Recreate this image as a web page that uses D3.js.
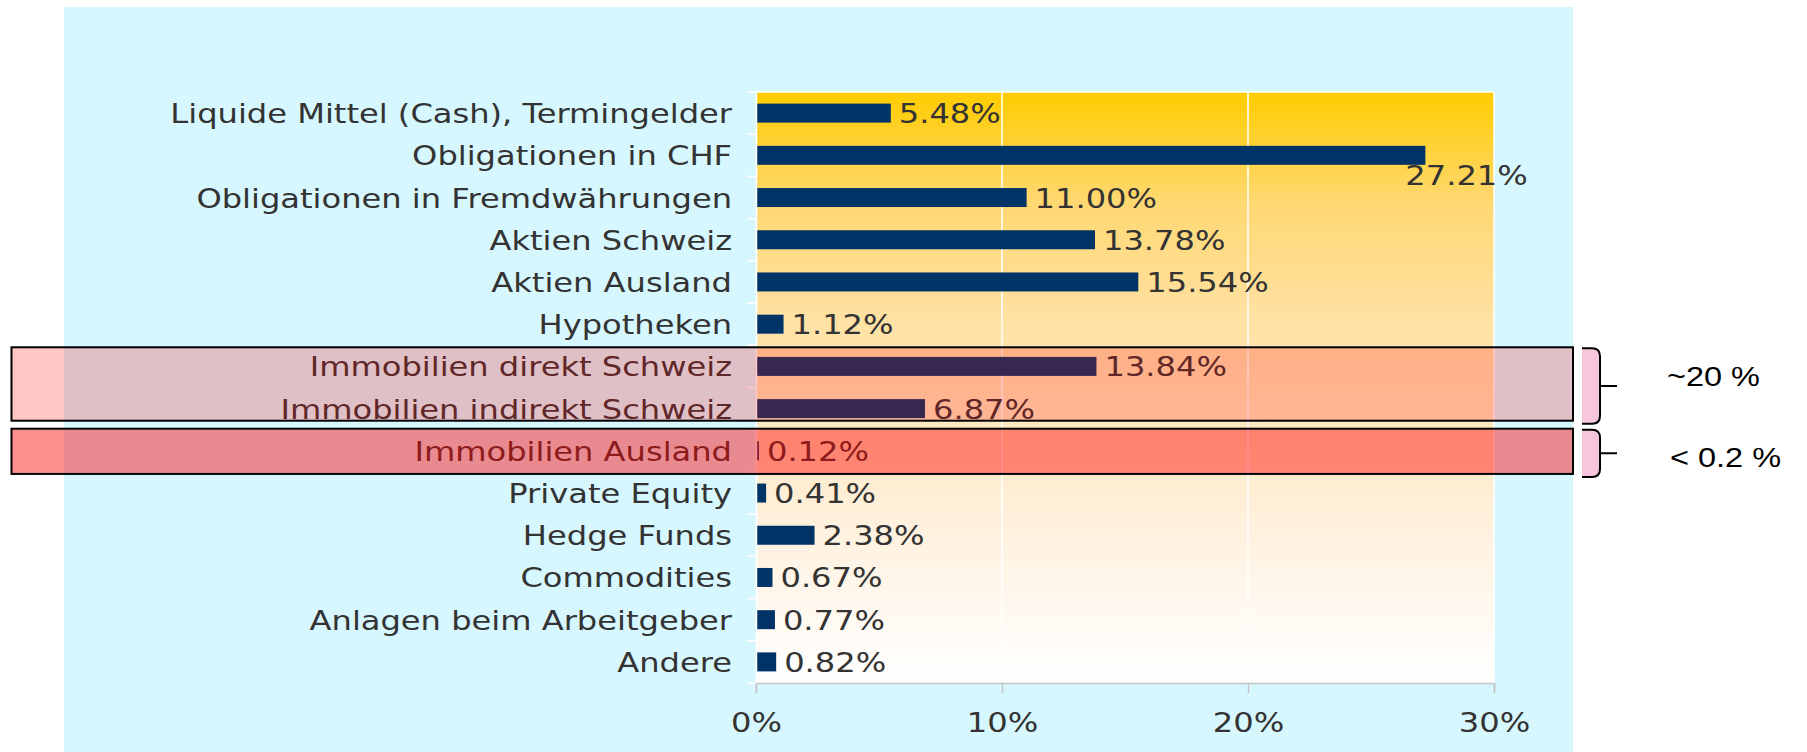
<!DOCTYPE html>
<html>
<head>
<meta charset="utf-8">
<script src="https://d3js.org/d3.v7.min.js"></script>
<style>
  body { margin: 0; background: #ffffff; }
  svg { display: block; }
</style>
</head>
<body>
<script>
// data
const categories = [
  "Liquide Mittel (Cash), Termingelder",
  "Obligationen in CHF",
  "Obligationen in Fremdwährungen",
  "Aktien Schweiz",
  "Aktien Ausland",
  "Hypotheken",
  "Immobilien direkt Schweiz",
  "Immobilien indirekt Schweiz",
  "Immobilien Ausland",
  "Private Equity",
  "Hedge Funds",
  "Commodities",
  "Anlagen beim Arbeitgeber",
  "Andere"
];
const values = [5.48, 27.21, 11.00, 13.78, 15.54, 1.12, 13.84, 6.87, 0.12, 0.41, 2.38, 0.67, 0.77, 0.82];
const xTicks = [0, 10, 20, 30];
const groupFirst = ["Immobilien direkt Schweiz", "Immobilien Ausland"];
const groupLast = ["Immobilien indirekt Schweiz", "Immobilien Ausland"];
const groupLabels = ["~20 %", "< 0.2 %"];

const W = 1807, H = 752;
const plot = { left: 756, right: 1494, top: 92, bottom: 683 };
const sx = 1.19; // text in the picture is a bit wider than DejaVu
const fontMain = "'DejaVu Sans', Verdana, sans-serif";
const textCol = "#333333";

const svg = d3.select("body").append("svg")
  .attr("width", W)
  .attr("height", H);

const defs = svg.append("defs");
const grad = defs.append("linearGradient")
  .attr("id", "plotBg")
  .attr("x1", 0).attr("y1", 0).attr("x2", 0).attr("y2", 1);
[[0, "#ffcc00"], [0.19, "#ffd873"], [0.38, "#ffe1a2"], [0.72, "#fff0dc"], [1, "#ffffff"]]
  .forEach(s => grad.append("stop").attr("offset", s[0]).attr("stop-color", s[1]));

// cyan panel
svg.append("rect")
  .attr("x", 64).attr("y", 7)
  .attr("width", 1573 - 64).attr("height", H - 7)
  .attr("fill", "#d7f7ff");

const x = d3.scaleLinear().domain([0, 30]).range([plot.left, plot.right]);
const y = d3.scaleBand().domain(categories).range([plot.top, plot.bottom]).padding(0);
const step = y.step();
const barH = step * 0.45;

// plot area
svg.append("rect")
  .attr("x", plot.left).attr("y", plot.top)
  .attr("width", plot.right - plot.left).attr("height", plot.bottom - plot.top)
  .attr("fill", "url(#plotBg)");

// gridlines
svg.selectAll("line.grid")
  .data(xTicks.slice(1))
  .enter().append("line")
  .attr("class", "grid")
  .attr("x1", d => x(d)).attr("x2", d => x(d))
  .attr("y1", plot.top).attr("y2", plot.bottom)
  .attr("stroke", "#ffffff")
  .attr("stroke-width", 1.5);

svg.append("line")
  .attr("x1", plot.left).attr("x2", plot.right)
  .attr("y1", plot.top).attr("y2", plot.top)
  .attr("stroke", "#ffffff").attr("stroke-width", 1.5);

// bars
svg.selectAll("rect.bar")
  .data(values)
  .enter().append("rect")
  .attr("class", "bar")
  .attr("x", x(0))
  .attr("y", (d, i) => y(categories[i]) + (step - barH) / 2)
  .attr("width", d => x(d) - x(0))
  .attr("height", barH)
  .attr("fill", "#003366");

// value labels
const vl = svg.selectAll("text.val")
  .data(values)
  .enter().append("text")
  .attr("class", "val")
  .attr("font-family", fontMain)
  .attr("font-size", 27)
  .attr("fill", textCol)
  .attr("text-anchor", "start")
  .attr("dy", "0.37em")
  .text(d => d3.format(".2f")(d) + "%");

vl.each(function(d, i) {
  const w = this.getComputedTextLength() * sx;
  let tx = x(d) + 8;
  let ty = y(categories[i]) + step / 2;
  if (tx + w > plot.right) { tx = x(d) - 20; ty += 20; }
  d3.select(this).attr("transform", `translate(${tx},${ty}) scale(${sx},1)`);
});

// y axis
const yAxis = svg.append("g")
  .attr("transform", `translate(${plot.left},0)`)
  .call(d3.axisLeft(y).tickSize(0).tickPadding(0));
yAxis.select(".domain").attr("stroke", "#ffffff").attr("stroke-width", 1.5);
yAxis.selectAll("text")
  .attr("font-family", fontMain)
  .attr("font-size", 27)
  .attr("fill", textCol)
  .attr("x", 0)
  .attr("dy", "0.37em")
  .attr("transform", `translate(-24,0) scale(${sx},1)`);

// white ticks at band boundaries
const bounds = categories.map(c => y(c)).concat([plot.bottom]);
yAxis.selectAll("line.bound")
  .data(bounds)
  .enter().append("line")
  .attr("class", "bound")
  .attr("x1", -9).attr("x2", 0)
  .attr("y1", d => d).attr("y2", d => d)
  .attr("stroke", "#ffffff").attr("stroke-width", 1.5);

// x axis
const xAxis = svg.append("g")
  .attr("transform", `translate(0,${plot.bottom})`)
  .call(d3.axisBottom(x).tickValues(xTicks).tickSize(10).tickFormat(d => d + "%"));
xAxis.select(".domain").attr("stroke", "#c4c4c4").attr("stroke-width", 1.5);
xAxis.selectAll(".tick line").attr("stroke", "#c4c4c4").attr("stroke-width", 1.5);
xAxis.selectAll("text")
  .attr("font-family", fontMain)
  .attr("font-size", 27)
  .attr("fill", textCol)
  .attr("y", 0).attr("dy", 0)
  .attr("transform", `translate(0,49) scale(${sx},1)`);

// highlight boxes, drawn on top
const boxPad = [[2, -9], [-1, 2]];
const boxFill = ["rgba(255,0,0,0.22)", "rgba(255,0,0,0.44)"];
const labShift = [0, 14];
groupLabels.forEach((lab, i) => {
  const top = y(groupFirst[i]) + boxPad[i][0];
  const bot = y(groupLast[i]) + step + boxPad[i][1];
  svg.append("rect")
    .attr("x", 11.5).attr("y", top)
    .attr("width", 1573 - 11.5).attr("height", bot - top)
    .attr("fill", boxFill[i])
    .attr("stroke", "#000000")
    .attr("stroke-width", 2);

  // curly brace
  const bx0 = 1582, bx1 = 1600, tip = 1617;
  const t = top + 1, b = bot + 3, m = (t + b) / 2;
  const r = 8;
  const outline = `M${bx0},${t} L${bx1 - r},${t} Q${bx1},${t} ${bx1},${t + r} L${bx1},${m - 2}
    L${bx1},${m + 2} L${bx1},${b - r} Q${bx1},${b} ${bx1 - r},${b} L${bx0},${b}`;
  svg.append("path")
    .attr("d", outline + " Z")
    .attr("fill", "#f7c6dc")
    .attr("stroke", "none");
  svg.append("path")
    .attr("d", outline + ` M${bx1},${m} L${tip},${m}`)
    .attr("fill", "none")
    .attr("stroke", "#000000")
    .attr("stroke-width", 2);

  svg.append("text")
    .attr("font-family", "'Liberation Sans', Arial, sans-serif")
    .attr("font-size", 28)
    .attr("fill", "#000000")
    .attr("transform", `translate(${i === 0 ? 1667 : 1670},${m + labShift[i]}) scale(1.16,1)`)
    .text(lab);
});
</script>
</body>
</html>
